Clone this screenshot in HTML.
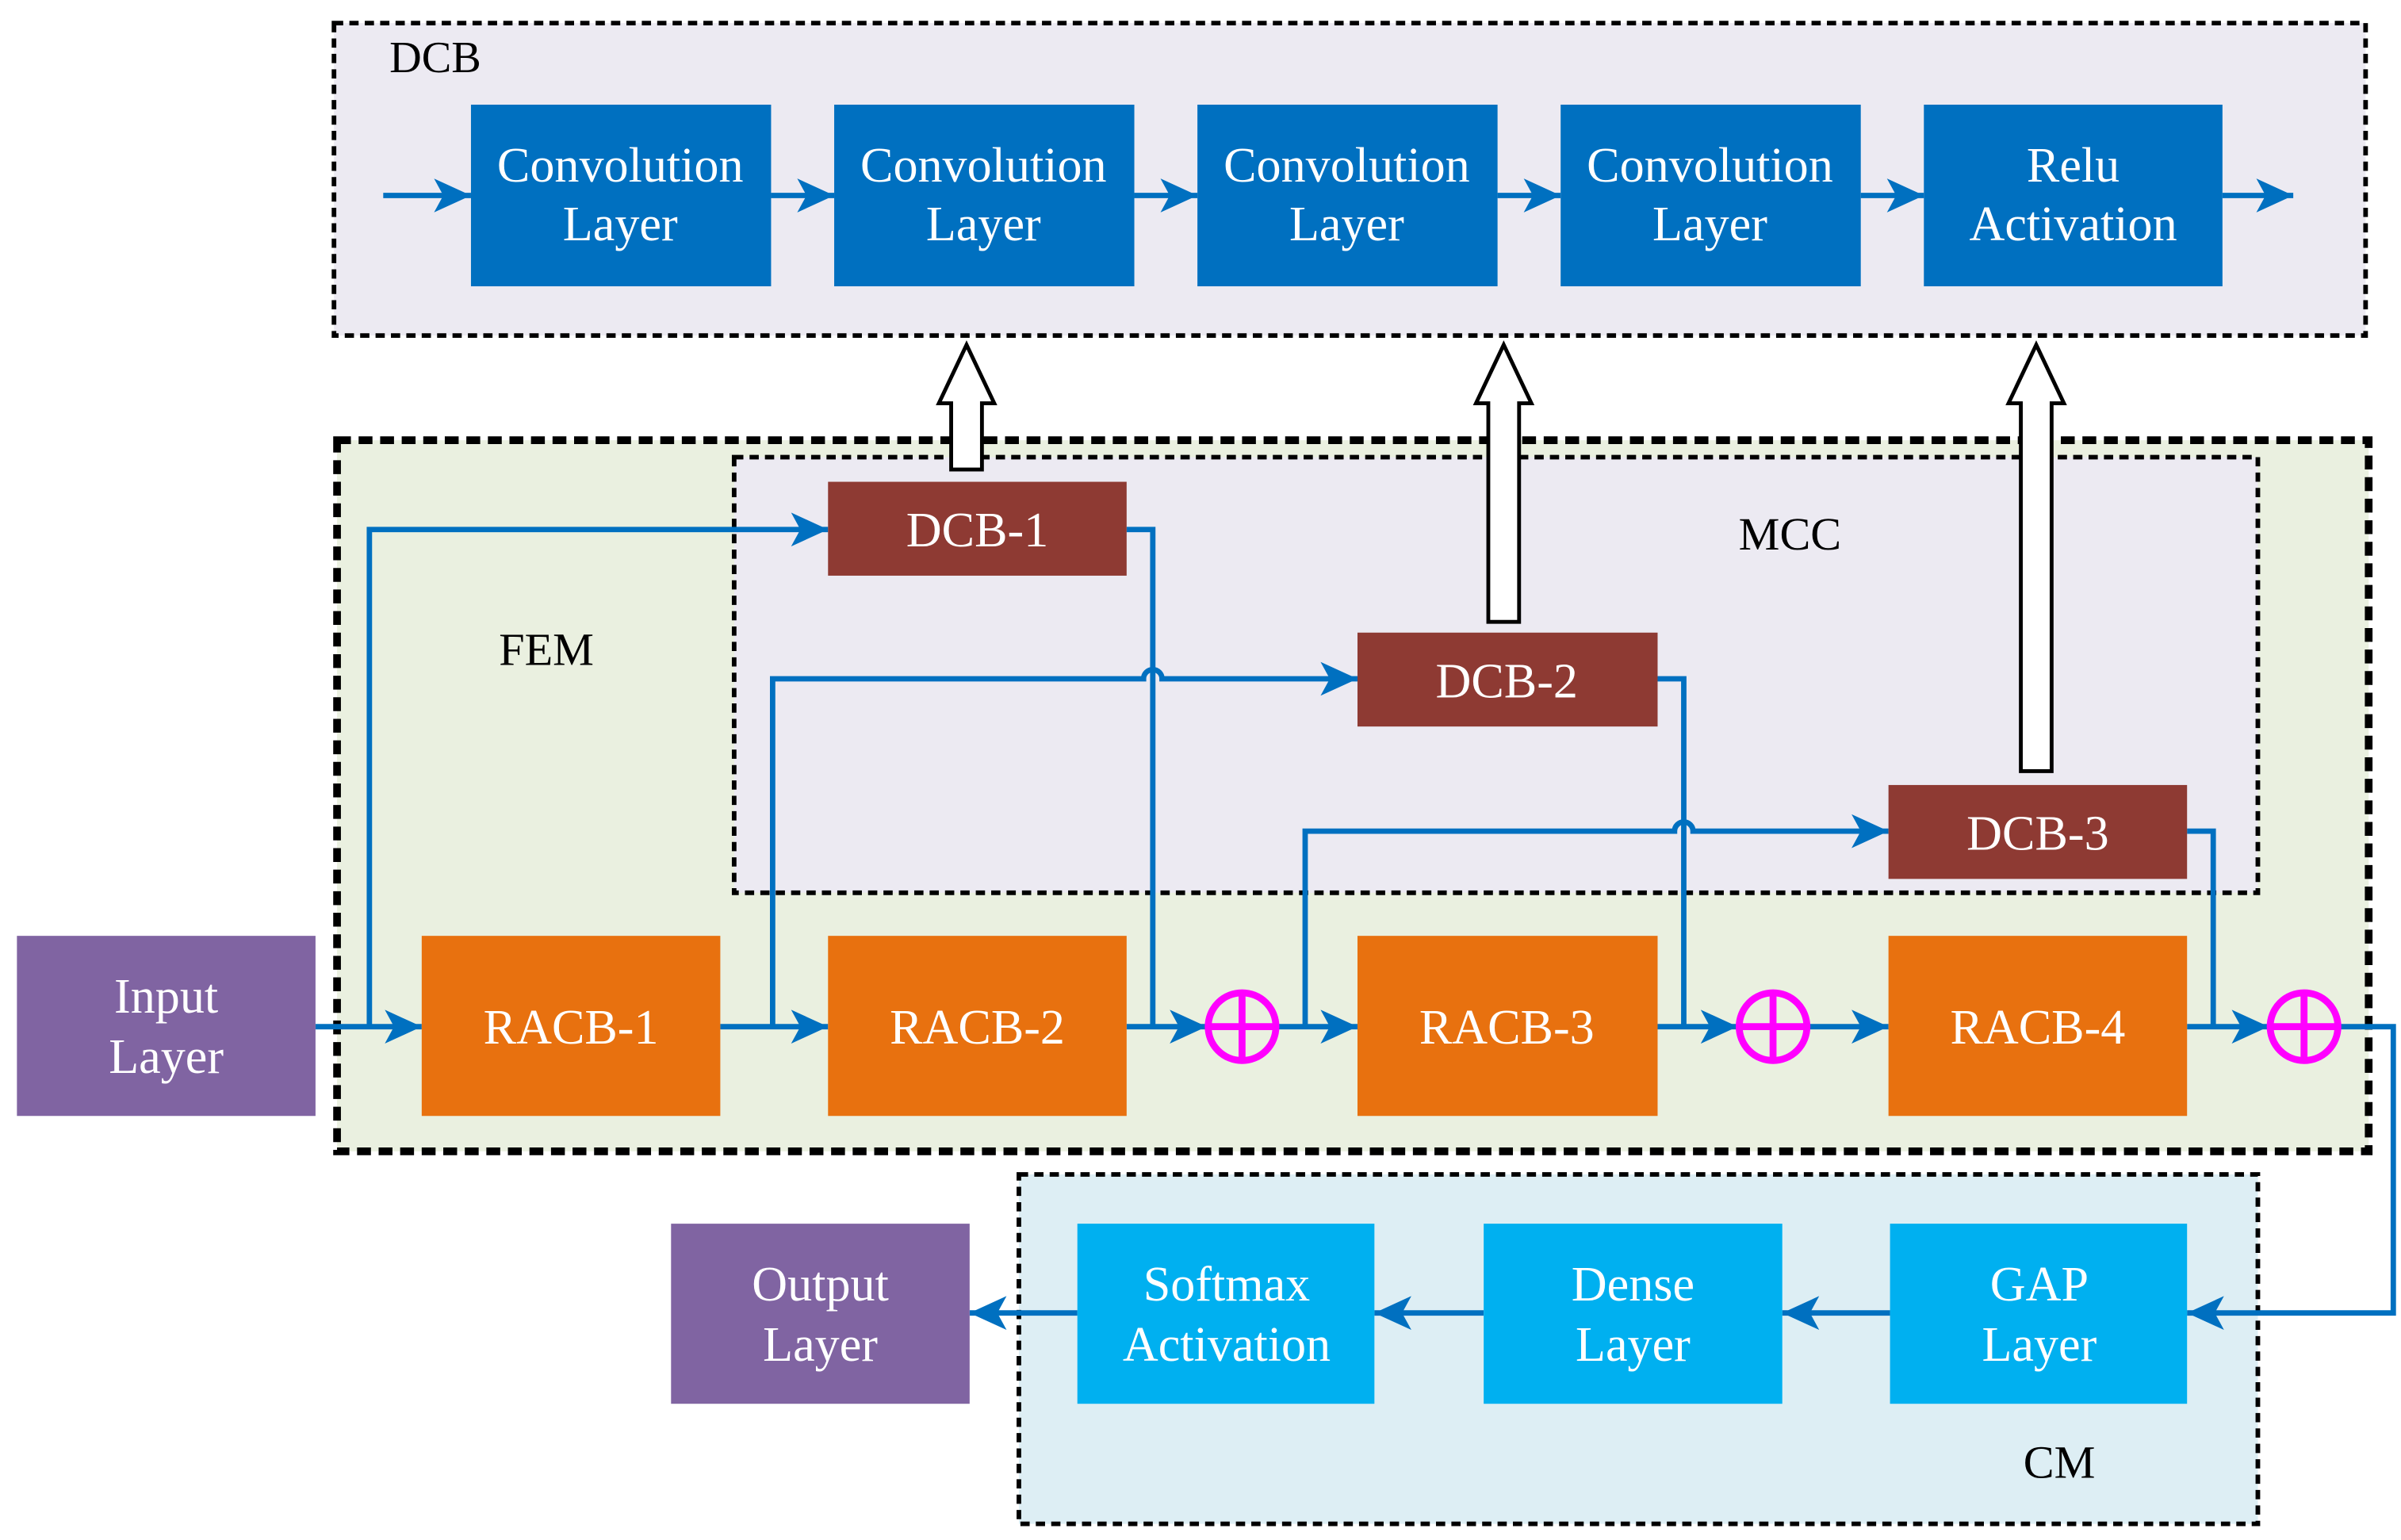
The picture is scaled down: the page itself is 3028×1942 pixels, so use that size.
<!DOCTYPE html>
<html><head><meta charset="utf-8"><style>
html,body{margin:0;padding:0;background:#fff;}
svg{display:block;}
text{font-family:"Liberation Serif",serif;}
</style></head><body>
<svg width="3028" height="1942" viewBox="0 0 1560 1000.5" preserveAspectRatio="none" xmlns="http://www.w3.org/2000/svg">
<defs>
<marker id="a" markerUnits="userSpaceOnUse" markerWidth="26" markerHeight="22" refX="24" refY="11" orient="auto">
<path d="M0,0 L24,11 L0,22 L6,11 Z" fill="#0070C0"/>
</marker>
</defs>
<rect x="217" y="15" width="1320" height="203" fill="#ECEAF2" stroke="#000" stroke-width="3" stroke-dasharray="6,4"/>
<text x="253" y="47" font-size="29">DCB</text>
<g fill="#0070C0">
<rect x="306" y="68" width="195" height="118"/>
<rect x="542" y="68" width="195" height="118"/>
<rect x="778" y="68" width="195" height="118"/>
<rect x="1014" y="68" width="195" height="118"/>
<rect x="1250" y="68" width="194" height="118"/>
</g>
<g fill="#fff" font-size="32" text-anchor="middle">
<text x="403" y="118">Convolution</text><text x="403" y="156">Layer</text>
<text x="639" y="118">Convolution</text><text x="639" y="156">Layer</text>
<text x="875" y="118">Convolution</text><text x="875" y="156">Layer</text>
<text x="1111" y="118">Convolution</text><text x="1111" y="156">Layer</text>
<text x="1347" y="118">Relu</text><text x="1347" y="156">Activation</text>
</g>
<g stroke="#0070C0" stroke-width="3.5" fill="none" marker-end="url(#a)">
<line x1="249" y1="127" x2="306" y2="127"/>
<line x1="501" y1="127" x2="542" y2="127"/>
<line x1="737" y1="127" x2="778" y2="127"/>
<line x1="973" y1="127" x2="1014" y2="127"/>
<line x1="1209" y1="127" x2="1250" y2="127"/>
<line x1="1444" y1="127" x2="1490" y2="127"/>
</g>
<rect x="219" y="286" width="1320" height="462" fill="#EAF0E0" stroke="#000" stroke-width="5" stroke-dasharray="9,5"/>
<rect x="477" y="297" width="990" height="283" fill="#ECEAF2" stroke="#000" stroke-width="3" stroke-dasharray="6,4"/>
<rect x="662" y="763" width="805" height="227" fill="#DDEEF4" stroke="#000" stroke-width="3" stroke-dasharray="6,4"/>
<text x="355" y="432" font-size="30" text-anchor="middle">FEM</text>
<text x="1163" y="357" font-size="30" text-anchor="middle">MCC</text>
<text x="1338" y="960" font-size="30" text-anchor="middle">CM</text>
<g stroke="#0070C0" stroke-width="3.5" fill="none">
<path d="M240,667 V344 H538" marker-end="url(#a)"/>
<path d="M732,344 H749 V667"/>
<path d="M502,667 V441 H743 A6,6 0 0 1 755,441 H882" marker-end="url(#a)"/>
<path d="M1077,441 H1094 V667"/>
<path d="M848,667 V540 H1088 A6,6 0 0 1 1100,540 H1227" marker-end="url(#a)"/>
<path d="M1421,540 H1438 V667"/>
<line x1="205" y1="667" x2="274" y2="667" marker-end="url(#a)"/>
<line x1="468" y1="667" x2="538" y2="667" marker-end="url(#a)"/>
<line x1="732" y1="667" x2="784" y2="667" marker-end="url(#a)"/>
<line x1="830" y1="667" x2="882" y2="667" marker-end="url(#a)"/>
<line x1="1077" y1="667" x2="1129" y2="667" marker-end="url(#a)"/>
<line x1="1175" y1="667" x2="1227" y2="667" marker-end="url(#a)"/>
<line x1="1421" y1="667" x2="1474" y2="667" marker-end="url(#a)"/>
<path d="M1520,667 H1555 V853 H1421" marker-end="url(#a)"/>
<line x1="1228" y1="853" x2="1158" y2="853" marker-end="url(#a)"/>
<line x1="964" y1="853" x2="893" y2="853" marker-end="url(#a)"/>
<line x1="700" y1="853" x2="630" y2="853" marker-end="url(#a)"/>
</g>
<g fill="#fff" stroke="#000" stroke-width="2.5">
<path d="M618,305 V262 H610 L628,224 L646,262 H638 V305 Z"/>
<path d="M967,404 V262 H959 L977,224 L995,262 H987 V404 Z"/>
<path d="M1313,501 V262 H1305 L1323,224 L1341,262 H1333 V501 Z"/>
</g>
<g fill="#8E3A33">
<rect x="538" y="313" width="194" height="61"/>
<rect x="882" y="411" width="195" height="61"/>
<rect x="1227" y="510" width="194" height="61"/>
</g>
<g fill="#fff" font-size="32" text-anchor="middle">
<text x="635" y="355">DCB-1</text>
<text x="979" y="453">DCB-2</text>
<text x="1324" y="552">DCB-3</text>
</g>
<g fill="#E8710F">
<rect x="274" y="608" width="194" height="117"/>
<rect x="538" y="608" width="194" height="117"/>
<rect x="882" y="608" width="195" height="117"/>
<rect x="1227" y="608" width="194" height="117"/>
</g>
<g fill="#fff" font-size="32" text-anchor="middle">
<text x="371" y="678">RACB-1</text>
<text x="635" y="678">RACB-2</text>
<text x="979" y="678">RACB-3</text>
<text x="1324" y="678">RACB-4</text>
</g>
<g stroke="#FF00FF" stroke-width="4.5" fill="none">
<ellipse cx="807" cy="667" rx="22" ry="22"/><path d="M785,667 H829 M807,645 V689"/>
<ellipse cx="1152" cy="667" rx="22" ry="22"/><path d="M1130,667 H1174 M1152,645 V689"/>
<ellipse cx="1497" cy="667" rx="22" ry="22"/><path d="M1475,667 H1519 M1497,645 V689"/>
</g>
<rect x="11" y="608" width="194" height="117" fill="#8064A2"/>
<rect x="436" y="795" width="194" height="117" fill="#8064A2"/>
<g fill="#fff" font-size="32" text-anchor="middle">
<text x="108" y="658">Input</text><text x="108" y="697">Layer</text>
<text x="533" y="845">Output</text><text x="533" y="884">Layer</text>
</g>
<g fill="#00B0F0">
<rect x="700" y="795" width="193" height="117"/>
<rect x="964" y="795" width="194" height="117"/>
<rect x="1228" y="795" width="193" height="117"/>
</g>
<g fill="#fff" font-size="32" text-anchor="middle">
<text x="797" y="845">Softmax</text><text x="797" y="884">Activation</text>
<text x="1061" y="845">Dense</text><text x="1061" y="884">Layer</text>
<text x="1325" y="845">GAP</text><text x="1325" y="884">Layer</text>
</g>
</svg>
</body></html>
